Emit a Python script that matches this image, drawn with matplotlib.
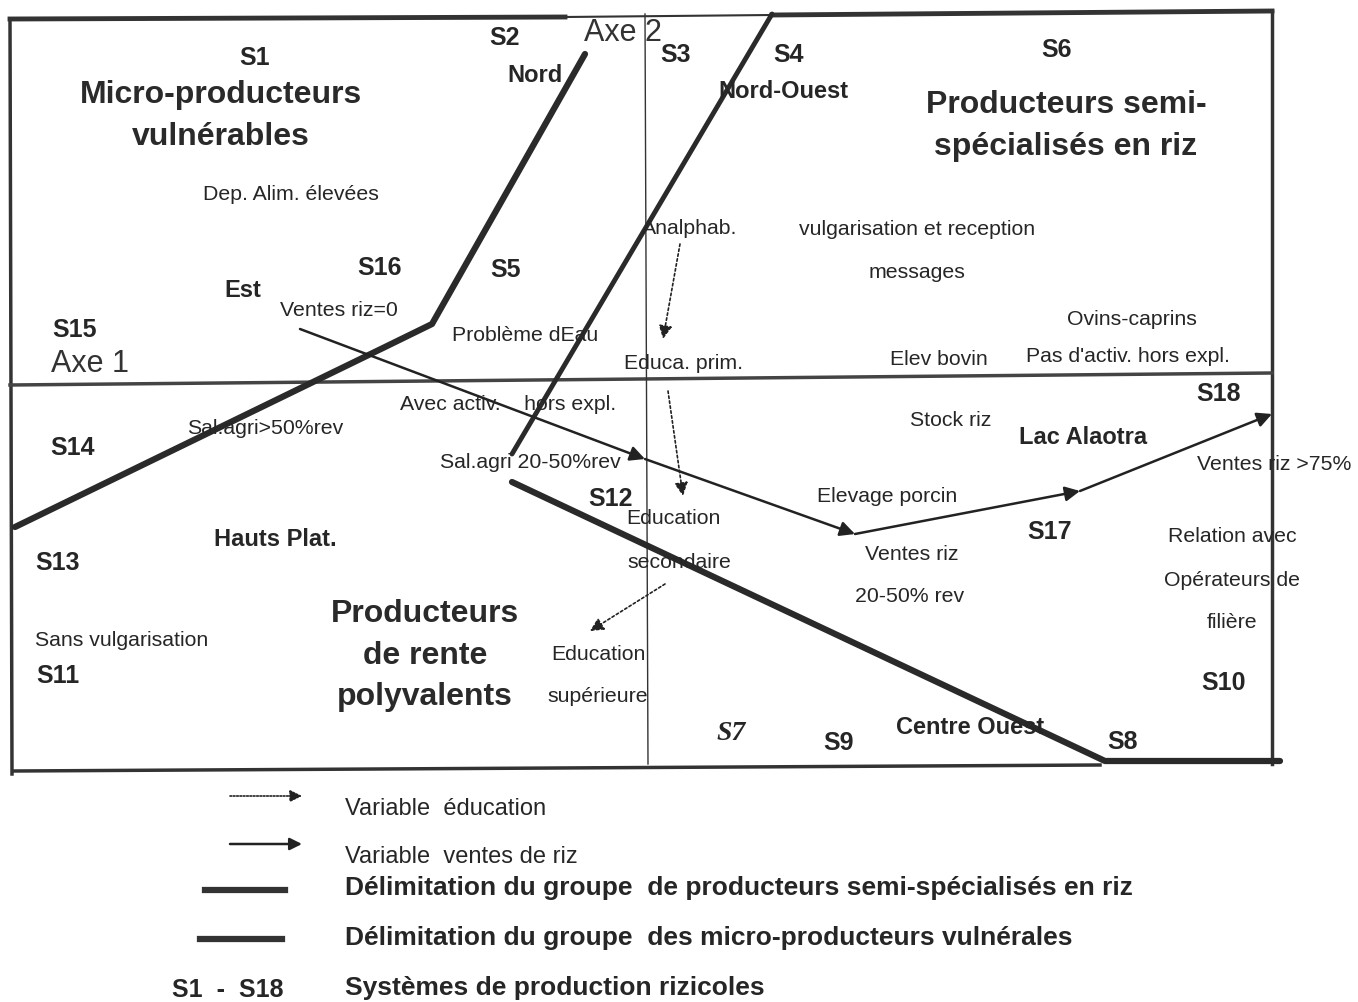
import matplotlib
matplotlib.use("Agg")
import matplotlib.pyplot as plt

plt.rcParams['font.family'] = ['Liberation Sans', 'DejaVu Sans']

# ---------------- data (diagram coordinates, pixel space of the scan) ----------------
# production systems S1..S18
sys_names = ["S1", "S2", "S3", "S4", "S6", "S16", "S5", "S15", "S14", "S13",
             "S11", "S12", "S17", "S18", "S10", "S9", "S8"]
sys_x = [255, 505, 676, 789, 1057, 380, 506, 75, 73, 58, 58, 611, 1050, 1219, 1224, 839, 1123]
sys_y = [58, 38, 55, 55, 50, 268, 270, 330, 448, 563, 676, 499, 532, 394, 683, 743, 742]

# group titles
groups = ["Micro-producteurs\nvulnérables", "Producteurs semi-\nspécialisés en riz",
          "Producteurs\nde rente\npolyvalents"]
groups_x = [221, 1066, 425]
groups_y = [116, 126, 656]

# regions
regions = ["Nord", "Nord-Ouest", "Est", "Hauts Plat.", "Lac Alaotra", "Centre Ouest"]
regions_x = [535, 783, 243, 275, 1083, 970]
regions_y = [75, 91, 290, 540, 437, 727]

# variables
variables = ["Dep. Alim. élevées", "Analphab.", "vulgarisation et reception", "messages",
             "Ovins-caprins", "Pas d'activ. hors expl.", "Elev bovin", "Educa. prim.",
             "Ventes riz=0", "Problème dEau", "Avec activ.    hors expl.", "Sal.agri>50%rev",
             "Sal.agri 20-50%rev", "Stock riz", "Ventes riz >75%", "Elevage porcin",
             "Education", "secondaire", "Ventes riz", "20-50% rev", "Relation avec",
             "Opérateurs de", "filière", "Sans vulgarisation", "Education", "supérieure"]
variables_x = [291, 690, 917, 917, 1132, 1128, 939, 684, 339, 525, 508, 265,
               530, 951, 1274, 887, 673, 679, 912, 910, 1232, 1232, 1232, 122, 598, 598]
variables_y = [194, 228, 229, 272, 319, 356, 359, 363, 310, 335, 404, 428,
               463, 420, 465, 497, 519, 562, 554, 597, 537, 580, 622, 641, 655, 697]

# boundary of micro-producers group
micro_x = [585, 432, 385, 15]
micro_y = [55, 325, 348, 528]
# boundary of semi-specialised group
semi_top_x = [772, 512]
semi_top_y = [15, 455]
semi_bot_x = [512, 1105, 1280]
semi_bot_y = [483, 762, 762]

# rice sales path (solid arrows)
sales_x = [300, 645, 855, 1080, 1272]
sales_y = [330, 460, 535, 492, 415]

# education arrows (dotted)
edu_arrows = [((680, 245), (663, 340)), ((668, 392), (683, 497)), ((665, 585), (590, 632))]

fig = plt.figure(figsize=(13.58, 10.03), dpi=100)
ax = fig.add_axes([0, 0, 1, 1])
ax.set_xlim(0, 1358)
ax.set_ylim(1003, 0)
ax.axis('off')

ink = '#262626'

# frame
ax.plot([10, 565], [20, 18], color='#333333', lw=3.5)
ax.plot([565, 772], [18, 16], color='#333333', lw=1.5)
ax.plot([772, 1272], [16, 12], color='#333333', lw=3.5)
ax.plot([10, 12], [20, 775], color='#333333', lw=2.5)
ax.plot([1272, 1272], [12, 765], color='#333333', lw=2.5)
ax.plot([14, 1100], [772, 766], color='#333333', lw=2.5)

# axes
ax.plot([10, 1272], [386, 374], color='#444444', lw=2.5)
ax.plot([645, 648], [15, 765], color='#333333', lw=1.0)

# group boundaries
ax.plot(micro_x, micro_y, color='#2a2a2a', lw=4.5, solid_capstyle='round')
ax.plot(semi_top_x, semi_top_y, color='#2a2a2a', lw=3.5, solid_capstyle='round')
ax.plot(semi_bot_x, semi_bot_y, color='#2a2a2a', lw=4.5, solid_capstyle='round')

# sales arrows
for i in range(len(sales_x) - 1):
    ax.annotate("", xy=(sales_x[i + 1], sales_y[i + 1]), xytext=(sales_x[i], sales_y[i]),
                arrowprops=dict(arrowstyle='-|>', color='#222222', lw=1.8,
                                mutation_scale=22, shrinkA=0, shrinkB=0))

# education arrows
for (x0, y0), (x1, y1) in edu_arrows:
    ax.annotate("", xy=(x1, y1), xytext=(x0, y0),
                arrowprops=dict(arrowstyle='-|>', color='#222222', lw=1.2, linestyle=(0, (1.5, 1.5)),
                                mutation_scale=20, shrinkA=0, shrinkB=0))

# texts
for n, x, y in zip(sys_names, sys_x, sys_y):
    ax.text(x, y, n, ha='center', va='center', fontsize=18, fontweight='bold', color=ink)
ax.text(731, 733, "S7", ha='center', va='center', fontsize=20, fontstyle='italic',
        fontweight='bold', family=['Liberation Serif', 'DejaVu Serif'], color=ink)

for g, x, y in zip(groups, groups_x, groups_y):
    ax.text(x, y, g, ha='center', va='center', fontsize=23, fontweight='bold',
            color='#2a2a2a', linespacing=1.5)

for r, x, y in zip(regions, regions_x, regions_y):
    ax.text(x, y, r, ha='center', va='center', fontsize=17, fontweight='bold', color=ink)

for v, x, y in zip(variables, variables_x, variables_y):
    ax.text(x, y, v, ha='center', va='center', fontsize=15.3, color=ink)

ax.text(623, 33, "Axe 2", ha='center', va='center', fontsize=22, color='#333333')
ax.text(90, 364, "Axe 1", ha='center', va='center', fontsize=22, color='#333333')

# legend
ax.annotate("", xy=(302, 797), xytext=(230, 797),
            arrowprops=dict(arrowstyle='-|>', color='#222222', lw=1.2, linestyle=(0, (1, 1)),
                            mutation_scale=18, shrinkA=0, shrinkB=0))
ax.annotate("", xy=(302, 845), xytext=(230, 845),
            arrowprops=dict(arrowstyle='-|>', color='#222222', lw=1.8,
                            mutation_scale=18, shrinkA=0, shrinkB=0))
ax.plot([205, 285], [891, 891], color='#333333', lw=4.5)
ax.plot([200, 282], [940, 940], color='#333333', lw=4.5)

ax.text(345, 809, "Variable  éducation", ha='left', va='center', fontsize=17, color=ink)
ax.text(345, 857, "Variable  ventes de riz", ha='left', va='center', fontsize=17, color=ink)
ax.text(345, 888, "Délimitation du groupe  de producteurs semi-spécialisés en riz",
        ha='left', va='center', fontsize=19, fontweight='bold', color=ink)
ax.text(345, 938, "Délimitation du groupe  des micro-producteurs vulnérales",
        ha='left', va='center', fontsize=19, fontweight='bold', color=ink)
ax.text(172, 990, "S1  -  S18", ha='left', va='center', fontsize=18, fontweight='bold', color=ink)
ax.text(345, 988, "Systèmes de production rizicoles", ha='left', va='center',
        fontsize=19, fontweight='bold', color=ink)

fig.savefig("out.png", dpi=100)
